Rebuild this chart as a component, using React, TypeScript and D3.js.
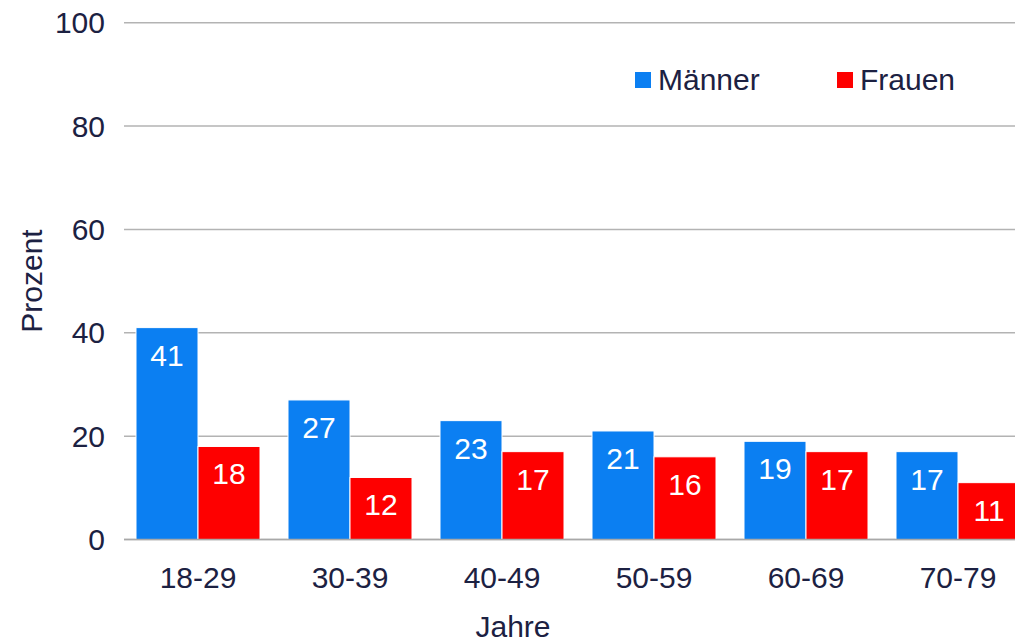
import React from "react";
import * as d3 from "d3";

const categories = ["18-29", "30-39", "40-49", "50-59", "60-69", "70-79"];
const seriesNames = ["Männer", "Frauen"];
const maenner = [41, 27, 23, 21, 19, 17];
const frauen = [18, 12, 17, 16, 17, 11];
const yTicks = [0, 20, 40, 60, 80, 100];

const colors = ["#0b7ff2", "#fe0000"];
const textColor = "#1c2142";
const font = "'Liberation Sans', Arial, sans-serif";

const width = 1015;
const height = 644;

export default function App() {
  const x0 = d3
    .scaleBand()
    .domain(categories)
    .range([122, 1034])
    .paddingInner(28 / 152)
    .paddingOuter(14 / 152);

  const x1 = d3
    .scaleBand()
    .domain(seriesNames)
    .range([0, x0.bandwidth()]);

  const y = d3.scaleLinear().domain([0, 100]).range([539.5, 22.7]);

  const values = [maenner, frauen];

  return (
    <svg
      width={width}
      height={height}
      style={{ position: "absolute", left: 0, top: 0, background: "#fff" }}
      fontFamily={font}
    >
      {/* grid */}
      {yTicks.map(t => (
        <g key={t}>
          <line
            x1={124}
            x2={width}
            y1={y(t)}
            y2={y(t)}
            stroke="#b3b3b3"
            strokeWidth={1.5}
          />
          <text
            x={105}
            y={y(t)}
            dy="0.35em"
            textAnchor="end"
            fontSize={30}
            fill={textColor}
          >
            {t}
          </text>
        </g>
      ))}

      {/* bars */}
      {categories.map((c, i) => (
        <g key={c} transform={`translate(${x0(c)},0)`}>
          {seriesNames.map((s, j) => {
            const v = values[j][i];
            const bx = x1(s) as number;
            return (
              <g key={s}>
                <rect
                  x={bx}
                  y={y(v)}
                  width={x1.bandwidth()}
                  height={y(0) - y(v)}
                  fill={colors[j]}
                  stroke="#fff"
                  strokeWidth={1}
                />
                <text
                  x={bx + x1.bandwidth() / 2}
                  y={y(v) + 38}
                  textAnchor="middle"
                  fontSize={30}
                  fill="#fff"
                >
                  {v}
                </text>
              </g>
            );
          })}
          <text
            x={x0.bandwidth() / 2}
            y={588}
            textAnchor="middle"
            fontSize={30}
            fill={textColor}
          >
            {c}
          </text>
        </g>
      ))}

      {/* axis line */}
      <line
        x1={124}
        x2={width}
        y1={y(0)}
        y2={y(0)}
        stroke="#a8a8a8"
        strokeWidth={1.5}
      />

      {/* axis titles */}
      <text
        x={513}
        y={637}
        textAnchor="middle"
        fontSize={30}
        fill={textColor}
      >
        Jahre
      </text>
      <text
        transform="translate(42,281) rotate(-90)"
        textAnchor="middle"
        fontSize={30}
        fill={textColor}
      >
        Prozent
      </text>

      {/* legend */}
      {seriesNames.map((s, j) => {
        const lx = j === 0 ? 635 : 837;
        return (
          <g key={s}>
            <rect x={lx} y={72} width={16} height={16} fill={colors[j]} />
            <text x={lx + 23} y={90} fontSize={30} fill={textColor}>
              {s}
            </text>
          </g>
        );
      })}
    </svg>
  );
}
